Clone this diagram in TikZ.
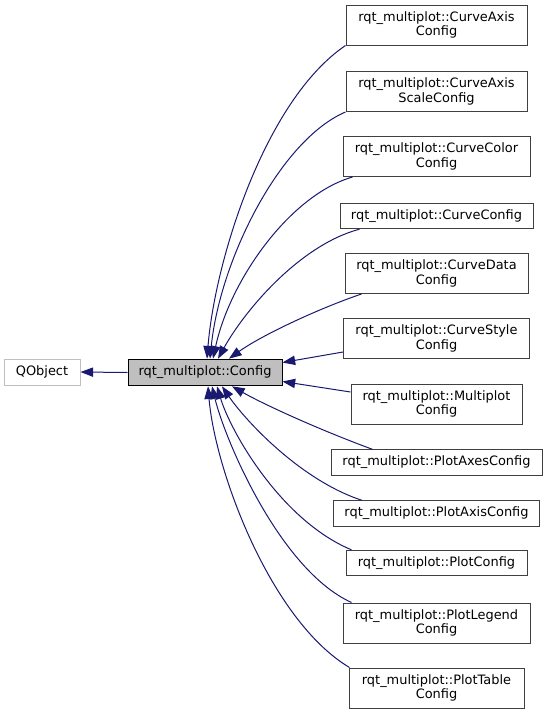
\documentclass[tikz,border=0pt]{standalone}
\usepackage{fontspec}
\setmainfont{DejaVu Sans}
\usepackage{tikz}
\usetikzlibrary{arrows.meta,calc}
\definecolor{EdgeNavy}{RGB}{25,25,112}
\definecolor{BaseGray}{RGB}{191,191,191}
\definecolor{BoxLine}{RGB}{64,64,64}

\begin{document}
\begin{tikzpicture}[x=0.75pt, y=-0.75pt,
    cls/.style={draw=BoxLine, line width=0.75pt, fill=white, align=center, inner sep=0pt, font=\fontsize{9.7}{11}\selectfont},
    two/.style={cls, minimum height=30pt},
    one/.style={cls, minimum height=19pt},
    inh/.style={draw=EdgeNavy, line width=0.75pt, -{Triangle[length=9.5pt,width=7pt]}}
]
    \useasboundingbox (0,0) rectangle (548,715);

    \node[cls, draw=BaseGray, minimum width=57pt, minimum height=19.5pt] (qobj) at (42,372) {QObject};
    \node[cls, draw=black, fill=BaseGray, minimum width=115.5pt, minimum height=20pt] (cfg) at (205,372.5) {rqt\_multiplot::Config};

    \node[two, minimum width=135.75pt] (axis) at (436.5,25) {rqt\_multiplot::CurveAxis\\Config};
    \node[two, minimum width=135.75pt] (scale) at (436.5,91.5) {rqt\_multiplot::CurveAxis\\ScaleConfig};
    \node[two, minimum width=140.25pt] (color) at (436.5,156.5) {rqt\_multiplot::CurveColor\\Config};
    \node[one, minimum width=144.75pt] (curve) at (436.5,216) {rqt\_multiplot::CurveConfig};
    \node[two, minimum width=137.25pt] (data) at (436.5,273.5) {rqt\_multiplot::CurveData\\Config};
    \node[two, minimum width=139.5pt] (style) at (436.5,338.5) {rqt\_multiplot::CurveStyle\\Config};
    \node[two, minimum width=128.25pt] (multi) at (436.5,404) {rqt\_multiplot::Multiplot\\Config};
    \node[one, minimum width=158.25pt] (axes) at (436.5,462.5) {rqt\_multiplot::PlotAxesConfig};
    \node[one, minimum width=154.5pt] (paxis) at (436.5,513.5) {rqt\_multiplot::PlotAxisConfig};
    \node[one, minimum width=135.75pt] (plot) at (436.5,563) {rqt\_multiplot::PlotConfig};
    \node[two, minimum width=140.25pt] (legend) at (436.5,623) {rqt\_multiplot::PlotLegend\\Config};
    \node[two, minimum width=131.25pt] (table) at (436.5,688) {rqt\_multiplot::PlotTable\\Config};

    \draw[inh] (cfg.west) -- (qobj.east);

    \draw[inh] (axis.south west) .. controls (265,100) and (215,260) .. ($(cfg.north)+(2,0)$);
    \draw[inh] (scale.south west) .. controls (280,140) and (220,260) .. ($(cfg.north)+(5,0)$);
    \draw[inh] ($(color.south west)+(10,0)$) .. controls (290,195) and (230,280) .. ($(cfg.north)+(8,0)$);
    \draw[inh] ($(curve.south west)+(20,0)$) .. controls (300,245) and (245,310) .. ($(cfg.north)+(13,0)$);
    \draw[inh] ($(data.south west)+(17,0)$) .. controls (320,308) and (262,335) .. ($(cfg.north)+(24,0)$);
    \draw[inh] ($(style.south west)+(0,-7)$) -- ($(cfg.east)+(0,-10)$);
    \draw[inh] ($(multi.west)+(0,-12)$) -- ($(cfg.east)+(0,9)$);
    \draw[inh] ($(axes.north west)+(42,0)$) .. controls (320,430) and (265,405) .. ($(cfg.south)+(27,0)$);
    \draw[inh] ($(paxis.north west)+(29,0)$) .. controls (300,480) and (245,420) .. ($(cfg.south)+(17,0)$);
    \draw[inh] ($(plot.north west)+(6,0)$) .. controls (280,520) and (230,430) .. ($(cfg.south)+(12,0)$);
    \draw[inh] ($(legend.north west)+(9,0)$) .. controls (280,570) and (225,440) .. ($(cfg.south)+(7,0)$);
    \draw[inh] ($(table.north west)+(1,0)$) .. controls (270,620) and (215,470) .. ($(cfg.south)+(3,0)$);
\end{tikzpicture}
\end{document}
